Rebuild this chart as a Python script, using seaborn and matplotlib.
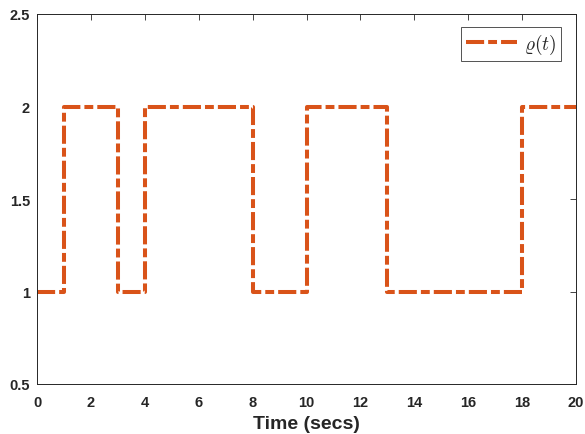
import matplotlib
matplotlib.use("Agg")
import matplotlib.pyplot as plt
import seaborn as sns
import pandas as pd

# Switching instants and the mode value held from each instant on
switch_times = [0, 1, 3, 4, 8, 10, 13, 18, 20]
rho_values = [1, 2, 1, 2, 1, 2, 1, 2, 2]
x_ticks = [0, 2, 4, 6, 8, 10, 12, 14, 16, 18, 20]
y_ticks = [0.5, 1, 1.5, 2, 2.5]
y_tick_labels = ["0.5", "1", "1.5", "2", "2.5"]

sns.set_theme(style="white")
plt.rcParams["font.family"] = ["Liberation Sans", "DejaVu Sans"]
plt.rcParams["mathtext.fontset"] = "cm"

df = pd.DataFrame({"t": switch_times, "rho": rho_values})

fig = plt.figure(figsize=(5.85, 4.35), dpi=100)
ax = fig.add_axes([37 / 585, 1 - 385 / 435, (576 - 37) / 585, (385 - 15) / 435])

sns.lineplot(data=df, x="t", y="rho", ax=ax, drawstyle="steps-post",
             color="#D95319", linewidth=2.9, label=r"$\varrho(t)$")
ax.lines[0].set_dashes([4.5, 1.0, 2.2, 1.0])

ax.set_xlim(0, 20)
ax.set_ylim(0.5, 2.5)
ax.set_xticks(x_ticks)
ax.set_yticks(y_ticks)
ax.set_yticklabels(y_tick_labels)
ax.set_xlabel("Time (secs)", fontsize=14, fontweight="bold", labelpad=4)
ax.set_ylabel("")

ax.tick_params(direction="in", length=4, width=0.6, top=True, right=True,
               labelsize=10.5, colors="#262626")
ax.tick_params(axis="x", pad=8)
ax.tick_params(axis="y", pad=5)
for lbl in ax.get_xticklabels() + ax.get_yticklabels():
    lbl.set_fontweight("bold")
for s in ax.spines.values():
    s.set_color("#262626")
    s.set_linewidth(0.7)

leg = ax.legend(loc="upper right", bbox_to_anchor=(0.972, 0.965), fontsize=14,
                frameon=True, fancybox=False, handlelength=2.6,
                borderpad=0.25, handletextpad=0.35, borderaxespad=0)
leg.get_frame().set_edgecolor("#262626")
leg.get_frame().set_linewidth(0.7)

fig.savefig("out.png", dpi=100)
